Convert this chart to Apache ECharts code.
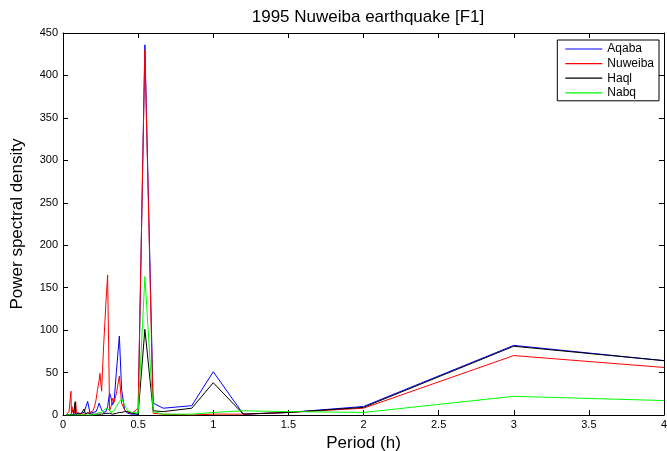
<!DOCTYPE html>
<html><head><meta charset="utf-8">
<script src="https://cdn.jsdelivr.net/npm/echarts@6/dist/echarts.min.js"></script>
<style>html,body{margin:0;padding:0;background:#fff}#c{width:667px;height:451px}</style>
</head><body><div id="c"></div>
<script>
const periods = [0.02,0.03,0.04,0.05,0.053,0.056,0.06,0.065,0.07,0.075,0.08,0.084,0.09,0.1,0.11,0.12,0.13,0.14,0.15,0.164,0.18,0.2,0.21,0.22,0.23,0.24,0.246,0.257,0.27,0.285,0.297,0.31,0.32,0.33,0.34,0.355,0.375,0.39,0.41,0.43,0.46,0.5,0.545,0.6,0.667,0.857,1.0,1.2,1.5,2,3,4];
const aqaba   = [0,1,0,1,0,1,0,1,0,1,0,1,1,2,1,2,1,3,5,16,2,3,5,4,8,14,13,6,3,4,10,26,20,12,16,50,93,30,6,2,1,1,436,14,8,11,51,1,3,10,82,64];
const nuweiba = [0,2,4,3,28,2,10,3,6,2,5,16,3,5,2,4,1,2,1,2,3,5,10,18,30,40,49,28,80,130,165,5,10,20,15,25,46,14,6,3,2,8,430,2,1,0,1,1,3,8,70,56];
const haql    = [0,1,0,1,0,1,0,1,0,2,15,1,2,1,1,1,1,7,1,3,1,1,1,1,1,1,1,1,1,2,2,2,1,1,2,2,3,3,4,4,2,1,101,5,4,8,38,1,3,9,81,64];
const nabq    = [0,0,0,0,0,0,0,0,0,0,0,0,0,0,0,0,0,0,0,0,0,0,1,1,2,3,4,3,5,8,10,6,3,3,5,10,16,19,12,5,3,2,163,4,1,1,3,5,4,3,22,17];
const seriesNames = ['Aqaba','Nuweiba','Haql','Nabq'];
const seriesColors = ['#0000ff','#ff0000','#000000','#00ff00'];
const seriesValues = [aqaba, nuweiba, haql, nabq];

const font = 'Liberation Sans, Arial, Helvetica, sans-serif';
const chart = echarts.init(document.getElementById('c'), null, {renderer:'canvas'});
const axisCommon = {
  axisLine:{show:true, onZero:false, lineStyle:{color:'#000', width:1}},
  axisTick:{show:true, inside:true, length:5, lineStyle:{color:'#000'}},
  splitLine:{show:false}
};
chart.setOption({
  animation:false,
  backgroundColor:'#fff',
  title:{text:'1995 Nuweiba earthquake [F1]', left:363, top:4, textAlign:'center',
    textStyle:{fontFamily:font, fontSize:17, fontWeight:'normal', color:'#000'}},
  legend:{
    data:seriesNames, orient:'vertical', right:8, top:40,
    icon:'rect', itemWidth:37, itemHeight:1.2, itemGap:2.6,
    padding:[3,5,2,8], borderColor:'#000', borderWidth:1, backgroundColor:'#fff',
    textStyle:{fontFamily:font, fontSize:12, color:'#000'}
  },
  grid:{left:63, right:3, top:33, bottom:36, outerBoundsMode:'none', containLabel:false},
  xAxis:[
    Object.assign({type:'value', min:0, max:4, interval:0.5, name:'Period (h)', nameLocation:'middle', nameGap:17,
      nameTextStyle:{fontFamily:font, fontSize:17, color:'#000'},
      axisLabel:{fontFamily:font, fontSize:11, color:'#000', margin:4}}, axisCommon),
    Object.assign({type:'value', min:0, max:4, interval:0.5, position:'top', axisLabel:{show:false}}, axisCommon)
  ],
  yAxis:[
    Object.assign({type:'value', min:0, max:450, interval:50, name:'Power spectral density', nameLocation:'middle', nameGap:37,
      nameTextStyle:{fontFamily:font, fontSize:17, color:'#000'},
      axisLabel:{fontFamily:font, fontSize:11, color:'#000', margin:5}}, axisCommon),
    Object.assign({type:'value', min:0, max:450, interval:50, position:'right', axisLabel:{show:false}}, axisCommon)
  ],
  series: seriesNames.map((n,i)=>({
    name:n, type:'line', showSymbol:false, symbol:'none',
    data: periods.map((p,j)=>[p, seriesValues[i][j]]),
    lineStyle:{color:seriesColors[i], width:1}, itemStyle:{color:seriesColors[i]},
    clip:true
  }))
});
</script></body></html>
